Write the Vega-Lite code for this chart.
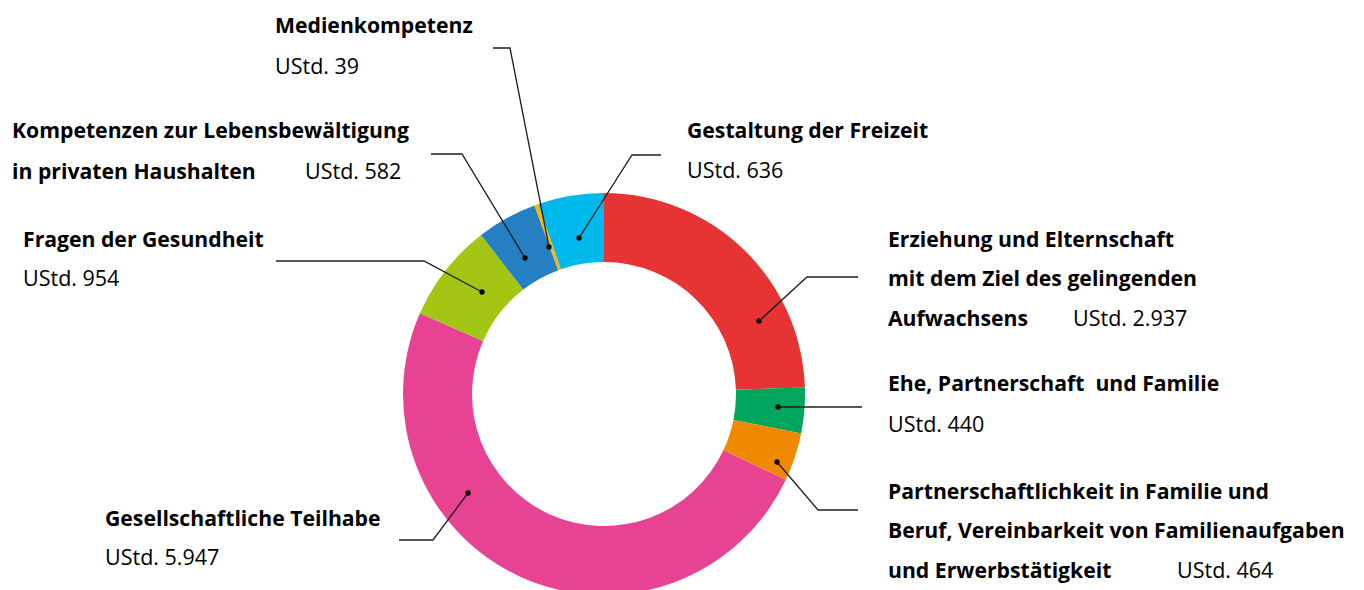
{
  "$schema": "https://vega.github.io/schema/vega-lite/v6.json",
  "width": 1364,
  "height": 590,
  "autosize": {"type": "none"},
  "padding": 0,
  "background": "white",
  "config": {"view": {"stroke": null}},
  "datasets": {
    "segments": [
      {"name": "Erziehung und Elternschaft", "rank": 1, "ustd": 2937},
      {"name": "Ehe, Partnerschaft und Familie", "rank": 2, "ustd": 440},
      {"name": "Partnerschaftlichkeit", "rank": 3, "ustd": 464},
      {"name": "Gesellschaftliche Teilhabe", "rank": 4, "ustd": 5947},
      {"name": "Fragen der Gesundheit", "rank": 5, "ustd": 954},
      {"name": "Kompetenzen zur Lebensbewältigung", "rank": 6, "ustd": 582},
      {"name": "Medienkompetenz", "rank": 7, "ustd": 39},
      {"name": "Gestaltung der Freizeit", "rank": 8, "ustd": 636}
    ],
    "leaders": [
      {"seg": "Erziehung", "k": 0, "lx": 155, "ly": -73},
      {"seg": "Erziehung", "k": 1, "lx": 203, "ly": -117},
      {"seg": "Erziehung", "k": 2, "lx": 254, "ly": -117},
      {"seg": "Ehe", "k": 0, "lx": 174, "ly": 13},
      {"seg": "Ehe", "k": 1, "lx": 258, "ly": 13},
      {"seg": "Partnerschaftlichkeit", "k": 0, "lx": 173, "ly": 68},
      {"seg": "Partnerschaftlichkeit", "k": 1, "lx": 214, "ly": 116},
      {"seg": "Partnerschaftlichkeit", "k": 2, "lx": 254, "ly": 116},
      {"seg": "Teilhabe", "k": 0, "lx": -136, "ly": 99},
      {"seg": "Teilhabe", "k": 1, "lx": -171, "ly": 146},
      {"seg": "Teilhabe", "k": 2, "lx": -205, "ly": 146},
      {"seg": "Gesundheit", "k": 0, "lx": -122, "ly": -102},
      {"seg": "Gesundheit", "k": 1, "lx": -180, "ly": -133},
      {"seg": "Gesundheit", "k": 2, "lx": -328, "ly": -133},
      {"seg": "Kompetenzen", "k": 0, "lx": -79, "ly": -136},
      {"seg": "Kompetenzen", "k": 1, "lx": -142, "ly": -240},
      {"seg": "Kompetenzen", "k": 2, "lx": -173, "ly": -240},
      {"seg": "Medien", "k": 0, "lx": -55, "ly": -147},
      {"seg": "Medien", "k": 1, "lx": -94, "ly": -346},
      {"seg": "Medien", "k": 2, "lx": -111, "ly": -346},
      {"seg": "Freizeit", "k": 0, "lx": -25, "ly": -156},
      {"seg": "Freizeit", "k": 1, "lx": 28, "ly": -239},
      {"seg": "Freizeit", "k": 2, "lx": 57, "ly": -239}
    ],
    "labels": [
      {"txt": "Medienkompetenz", "kind": "title", "tx": -329, "ty": -361},
      {"txt": "UStd. 39", "kind": "value", "tx": -329, "ty": -320},
      {"txt": "Kompetenzen zur Lebensbewältigung", "kind": "title", "tx": -592, "ty": -256},
      {"txt": "in privaten Haushalten", "kind": "title", "tx": -592, "ty": -215},
      {"txt": "UStd. 582", "kind": "value", "tx": -299, "ty": -215},
      {"txt": "Fragen der Gesundheit", "kind": "title", "tx": -581, "ty": -147},
      {"txt": "UStd. 954", "kind": "value", "tx": -581, "ty": -108},
      {"txt": "Gesellschaftliche Teilhabe", "kind": "title", "tx": -499, "ty": 132},
      {"txt": "UStd. 5.947", "kind": "value", "tx": -499, "ty": 171},
      {"txt": "Gestaltung der Freizeit", "kind": "title", "tx": 83, "ty": -256},
      {"txt": "UStd. 636", "kind": "value", "tx": 83, "ty": -216},
      {"txt": "Erziehung und Elternschaft", "kind": "title", "tx": 284, "ty": -147},
      {"txt": "mit dem Ziel des gelingenden", "kind": "title", "tx": 284, "ty": -108},
      {"txt": "Aufwachsens", "kind": "title", "tx": 284, "ty": -68},
      {"txt": "UStd. 2.937", "kind": "value", "tx": 469, "ty": -68},
      {"txt": "Ehe, Partnerschaft\u00a0 und Familie", "kind": "title", "tx": 284, "ty": -3},
      {"txt": "UStd. 440", "kind": "value", "tx": 284, "ty": 38},
      {"txt": "Partnerschaftlichkeit in Familie und", "kind": "title", "tx": 284, "ty": 105},
      {"txt": "Beruf, Vereinbarkeit von Familienaufgaben", "kind": "title", "tx": 284, "ty": 144},
      {"txt": "und Erwerbstätigkeit", "kind": "title", "tx": 284, "ty": 184},
      {"txt": "UStd. 464", "kind": "value", "tx": 573, "ty": 184}
    ]
  },
  "resolve": {"scale": {"x": "shared", "y": "shared"}},
  "layer": [
    {
      "data": {"name": "segments"},
      "mark": {"type": "arc", "innerRadius": 132, "outerRadius": 201},
      "encoding": {
        "x": {"datum": 0, "type": "quantitative", "scale": {"domain": [-604, 760], "nice": false, "zero": false}, "axis": null},
        "y": {"datum": 0, "type": "quantitative", "scale": {"domain": [-394, 196], "reverse": true, "nice": false, "zero": false}, "axis": null},
        "theta": {"field": "ustd", "type": "quantitative", "stack": true},
        "order": {"field": "rank", "type": "quantitative"},
        "color": {
          "field": "name",
          "type": "nominal",
          "legend": null,
          "scale": {
            "domain": ["Erziehung und Elternschaft", "Ehe, Partnerschaft und Familie", "Partnerschaftlichkeit", "Gesellschaftliche Teilhabe", "Fragen der Gesundheit", "Kompetenzen zur Lebensbewältigung", "Medienkompetenz", "Gestaltung der Freizeit"],
            "range": ["#e63434", "#00a65d", "#f08900", "#e84393", "#a3c615", "#2580c3", "#f5b900", "#00b9ec"]
          }
        }
      }
    },
    {
      "data": {"name": "leaders"},
      "mark": {"type": "line", "color": "#1e1e1e", "strokeWidth": 1.3},
      "encoding": {
        "x": {"field": "lx", "type": "quantitative"},
        "y": {"field": "ly", "type": "quantitative"},
        "detail": {"field": "seg", "type": "nominal"},
        "order": {"field": "k", "type": "quantitative"}
      }
    },
    {
      "data": {"name": "leaders"},
      "transform": [{"filter": "datum.k == 0"}],
      "mark": {"type": "point", "filled": true, "color": "#000000", "size": 28, "opacity": 1},
      "encoding": {
        "x": {"field": "lx", "type": "quantitative"},
        "y": {"field": "ly", "type": "quantitative"}
      }
    },
    {
      "data": {"name": "labels"},
      "transform": [{"filter": "datum.kind == 'title'"}],
      "mark": {"type": "text", "align": "left", "baseline": "alphabetic", "font": "Open Sans", "fontSize": 21.2, "fontWeight": "bold", "color": "#000000"},
      "encoding": {
        "x": {"field": "tx", "type": "quantitative"},
        "y": {"field": "ty", "type": "quantitative"},
        "text": {"field": "txt", "type": "nominal"}
      }
    },
    {
      "data": {"name": "labels"},
      "transform": [{"filter": "datum.kind == 'value'"}],
      "mark": {"type": "text", "align": "left", "baseline": "alphabetic", "font": "Open Sans", "fontSize": 21.5, "fontWeight": "normal", "color": "#000000"},
      "encoding": {
        "x": {"field": "tx", "type": "quantitative"},
        "y": {"field": "ty", "type": "quantitative"},
        "text": {"field": "txt", "type": "nominal"}
      }
    }
  ]
}
